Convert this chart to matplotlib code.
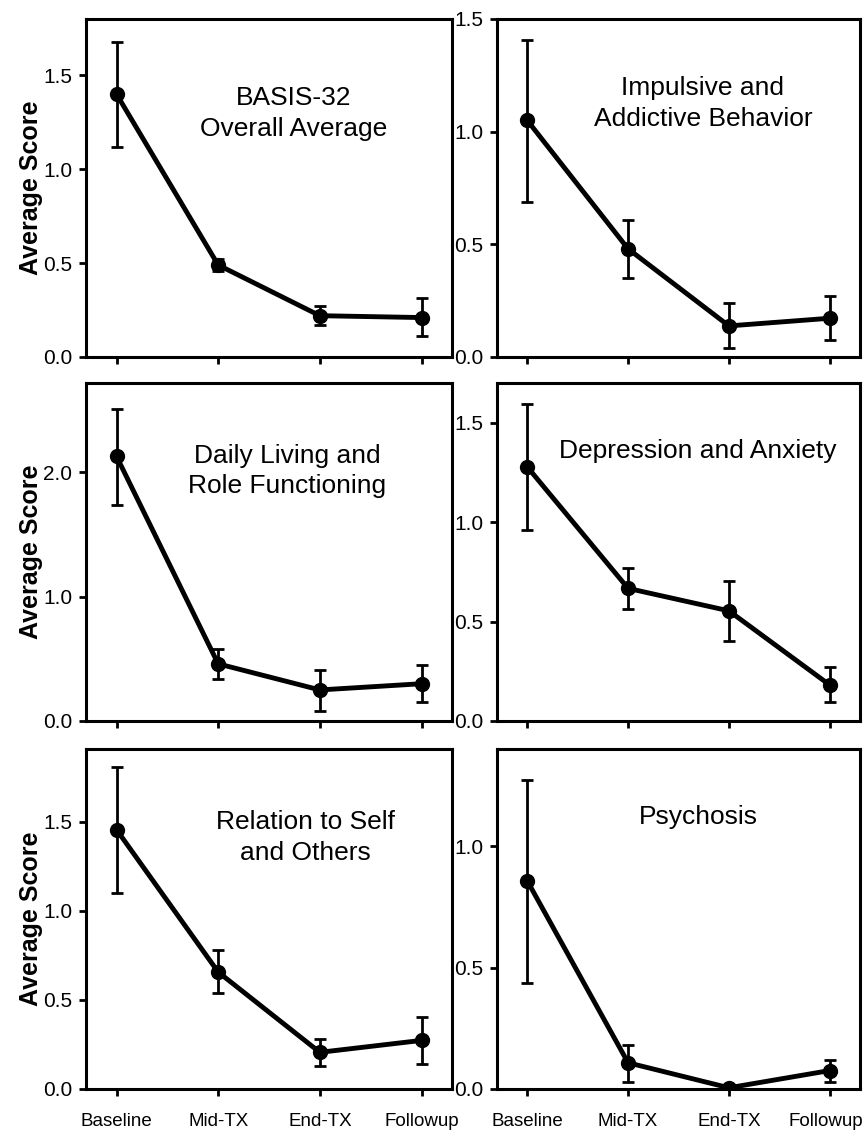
import matplotlib
matplotlib.use("Agg")
import matplotlib.pyplot as plt
from matplotlib.ticker import FormatStrFormatter
from matplotlib.transforms import ScaledTranslation

plt.rcParams['font.family'] = ['Liberation Sans', 'DejaVu Sans']

timepoints = ["Baseline", "Mid-TX", "End-TX", "Followup"]

titles = [
    "BASIS-32\nOverall Average",
    "Impulsive and\nAddictive Behavior",
    "Daily Living and\nRole Functioning",
    "Depression and Anxiety",
    "Relation to Self\nand Others",
    "Psychosis",
]

overall_mean = [1.40, 0.49, 0.22, 0.21]
overall_lo = [1.12, 0.46, 0.17, 0.11]
overall_hi = [1.68, 0.52, 0.27, 0.315]

impulsive_mean = [1.05, 0.48, 0.138, 0.172]
impulsive_lo = [0.69, 0.35, 0.04, 0.075]
impulsive_hi = [1.407, 0.608, 0.238, 0.271]

daily_mean = [2.13, 0.46, 0.25, 0.30]
daily_lo = [1.74, 0.34, 0.083, 0.15]
daily_hi = [2.51, 0.58, 0.41, 0.45]

depression_mean = [1.278, 0.667, 0.554, 0.181]
depression_lo = [0.963, 0.563, 0.403, 0.094]
depression_hi = [1.593, 0.77, 0.703, 0.273]

relation_mean = [1.457, 0.657, 0.206, 0.273]
relation_lo = [1.10, 0.539, 0.127, 0.140]
relation_hi = [1.81, 0.779, 0.281, 0.402]

psychosis_mean = [0.857, 0.108, 0.005, 0.076]
psychosis_lo = [0.435, 0.028, 0.0, 0.028]
psychosis_hi = [1.271, 0.18, 0.01, 0.12]

series = [
    (overall_mean, overall_lo, overall_hi),
    (impulsive_mean, impulsive_lo, impulsive_hi),
    (daily_mean, daily_lo, daily_hi),
    (depression_mean, depression_lo, depression_hi),
    (relation_mean, relation_lo, relation_hi),
    (psychosis_mean, psychosis_lo, psychosis_hi),
]

ylims = [1.8, 1.5, 2.72, 1.7, 1.91, 1.4]
yticks = [
    [0, 0.5, 1.0, 1.5],
    [0, 0.5, 1.0, 1.5],
    [0, 1.0, 2.0],
    [0, 0.5, 1.0, 1.5],
    [0, 0.5, 1.0, 1.5],
    [0, 0.5, 1.0],
]
title_pos = [(0.566, 0.72), (0.567, 0.75), (0.55, 0.74), (0.553, 0.80), (0.60, 0.74), (0.555, 0.80)]

W, H = 865, 1139
fig = plt.figure(figsize=(W / 100, H / 100), dpi=100)

# panel boxes in pixels: (left, top, width, height)
cols = [(86, 366), (497, 363)]
rows = [(19, 338), (383, 338), (749, 340)]

x = list(range(len(timepoints)))
for i, (mean, lo, hi) in enumerate(series):
    r, c = divmod(i, 2)
    left, w = cols[c]
    top, h = rows[r]
    ax = fig.add_axes([left / W, 1 - (top + h) / H, w / W, h / H])

    err = [[m - l for m, l in zip(mean, lo)], [u - m for m, u in zip(mean, hi)]]
    ax.errorbar(x, mean, yerr=err, color="black", lw=3.5, marker="o", ms=10,
                ecolor="black", elinewidth=2, capsize=4.5, capthick=2)

    ax.set_xlim(-0.3, 3.3)
    ax.set_ylim(0, ylims[i])
    ax.set_yticks(yticks[i])
    ax.yaxis.set_major_formatter(FormatStrFormatter("%.1f"))
    ax.set_xticks(x)
    if r == 2:
        ax.set_xticklabels(timepoints, fontsize=13.5)
    else:
        ax.set_xticklabels([])
    ax.tick_params(axis="both", direction="out", length=5, width=2)
    ax.tick_params(axis="y", labelsize=15, pad=5)
    ax.tick_params(axis="x", pad=12)
    for s in ax.spines.values():
        s.set_linewidth(2.2)

    if r == 2 and c == 1:
        # keep the last label inside the figure edge
        lab = ax.get_xticklabels()[-1]
        lab.set_transform(lab.get_transform() + ScaledTranslation(-4 / 100, 0, fig.dpi_scale_trans))

    if c == 0:
        ax.set_ylabel("Average Score", fontsize=18, fontweight="bold")
        ax.yaxis.set_label_coords(-0.118, 0.5)

    tx, ty = title_pos[i]
    ax.text(tx, ty, titles[i], transform=ax.transAxes, ha="center", va="center",
            fontsize=19, linespacing=1.35)

fig.savefig("out.png", dpi=100)
